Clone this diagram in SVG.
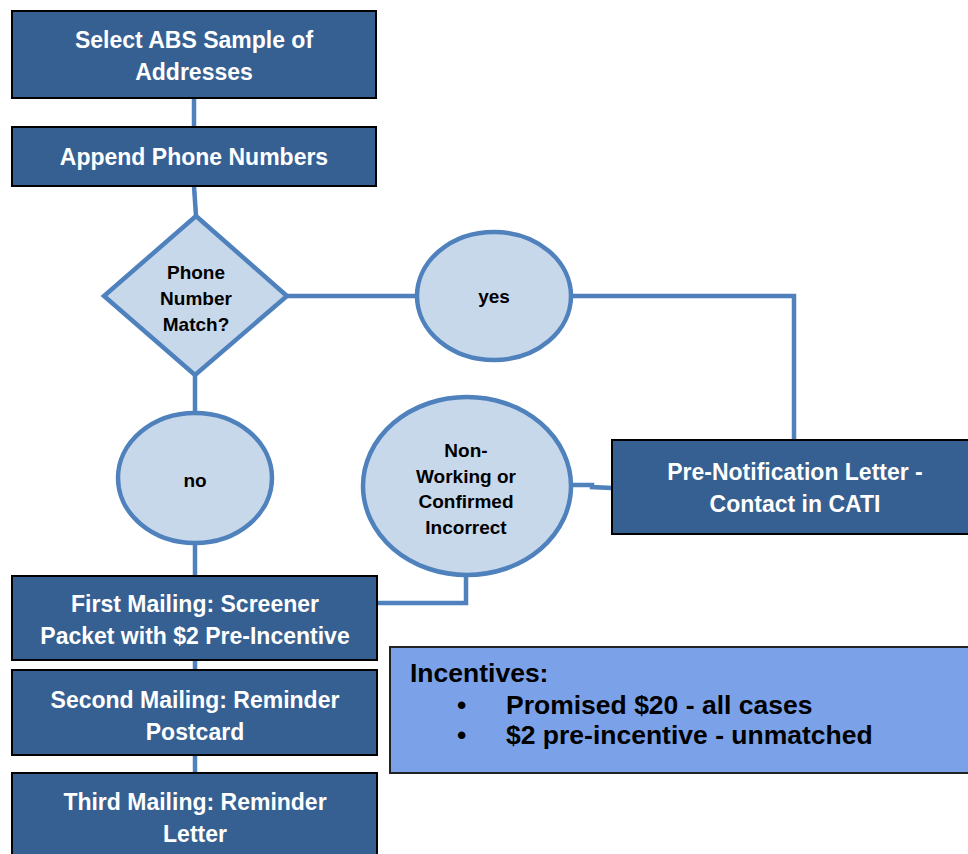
<svg xmlns="http://www.w3.org/2000/svg" width="968" height="854" viewBox="0 0 968 854">
<style>
.box{fill:#366092;stroke:#000;stroke-width:2}
.lt{fill:#c8d8eb;stroke:#4f81bd;stroke-width:4.5}
.conn{fill:none;stroke:#4f81bd;stroke-width:4.5}
.wt{font-family:"Liberation Sans",Arial,sans-serif;font-weight:bold;font-size:23px;fill:#fff;text-anchor:middle}
.bt{font-family:"Liberation Sans",Arial,sans-serif;font-weight:bold;font-size:19px;fill:#000;text-anchor:middle}
.it{font-family:"Liberation Sans",Arial,sans-serif;font-weight:bold;font-size:26.5px;fill:#000}
</style>
<rect width="968" height="854" fill="#fff"/>
<g id="connectors">
<line class="conn" x1="194" y1="98" x2="194" y2="127"/>
<line class="conn" x1="194" y1="186" x2="196" y2="216"/>
<line class="conn" x1="287" y1="296" x2="418" y2="296"/>
<polyline class="conn" points="571,296 794,296 794,440"/>
<line class="conn" x1="195" y1="375" x2="195" y2="413"/>
<line class="conn" x1="195" y1="543" x2="195" y2="576"/>
<polyline class="conn" points="612,488 592,487 592,485 571,485"/>
<polyline class="conn" points="466,575 466,603 377,603"/>
<line class="conn" x1="195" y1="660" x2="195" y2="670"/>
<line class="conn" x1="195" y1="755" x2="195" y2="773"/>
</g>
<g id="n1"><rect class="box" x="12" y="11" width="364" height="87"/>
<text class="wt" x="194" y="48">Select ABS Sample of</text><text class="wt" x="194" y="80">Addresses</text></g>
<g id="n2"><rect class="box" x="12" y="127" width="364" height="59"/>
<text class="wt" x="194" y="165">Append Phone Numbers</text></g>
<g id="n3"><polygon class="lt" points="196,216 287,296 195,375 104,296"/>
<text class="bt" x="196" y="279">Phone</text><text class="bt" x="196" y="305">Number</text><text class="bt" x="196" y="331">Match?</text></g>
<g id="n4"><ellipse class="lt" cx="494" cy="296" rx="77" ry="64"/>
<text class="bt" x="494" y="303">yes</text></g>
<g id="n5"><ellipse class="lt" cx="195" cy="478" rx="77" ry="65"/>
<text class="bt" x="195" y="487">no</text></g>
<g id="n6"><ellipse class="lt" cx="467" cy="486" rx="104" ry="89"/>
<text class="bt" x="466" y="457">Non-</text><text class="bt" x="466" y="483">Working or</text><text class="bt" x="466" y="508">Confirmed</text><text class="bt" x="466" y="534">Incorrect</text></g>
<g id="n7"><rect class="box" x="612" y="440" width="362" height="94"/>
<text class="wt" x="795" y="480">Pre-Notification Letter -</text><text class="wt" x="795" y="512">Contact in CATI</text></g>
<g id="n8"><rect class="box" x="12" y="576" width="365" height="84"/>
<text class="wt" x="195" y="612">First Mailing: Screener</text><text class="wt" x="195" y="644">Packet with $2 Pre-Incentive</text></g>
<g id="n9"><rect class="box" x="12" y="670" width="365" height="85"/>
<text class="wt" x="195" y="708">Second Mailing: Reminder</text><text class="wt" x="195" y="740">Postcard</text></g>
<g id="n10"><rect class="box" x="12" y="773" width="365" height="90"/>
<text class="wt" x="195" y="810">Third Mailing: Reminder</text><text class="wt" x="195" y="842">Letter</text></g>
<g id="incentives"><rect x="390" y="647" width="590" height="126" fill="#7ba2e9" stroke="#222" stroke-width="2"/>
<text class="it" x="410" y="682">Incentives:</text>
<text class="it" x="457" y="714">•</text><text class="it" x="506" y="714">Promised $20 - all cases</text>
<text class="it" x="457" y="744">•</text><text class="it" x="506" y="744">$2 pre-incentive - unmatched</text></g>
</svg>
